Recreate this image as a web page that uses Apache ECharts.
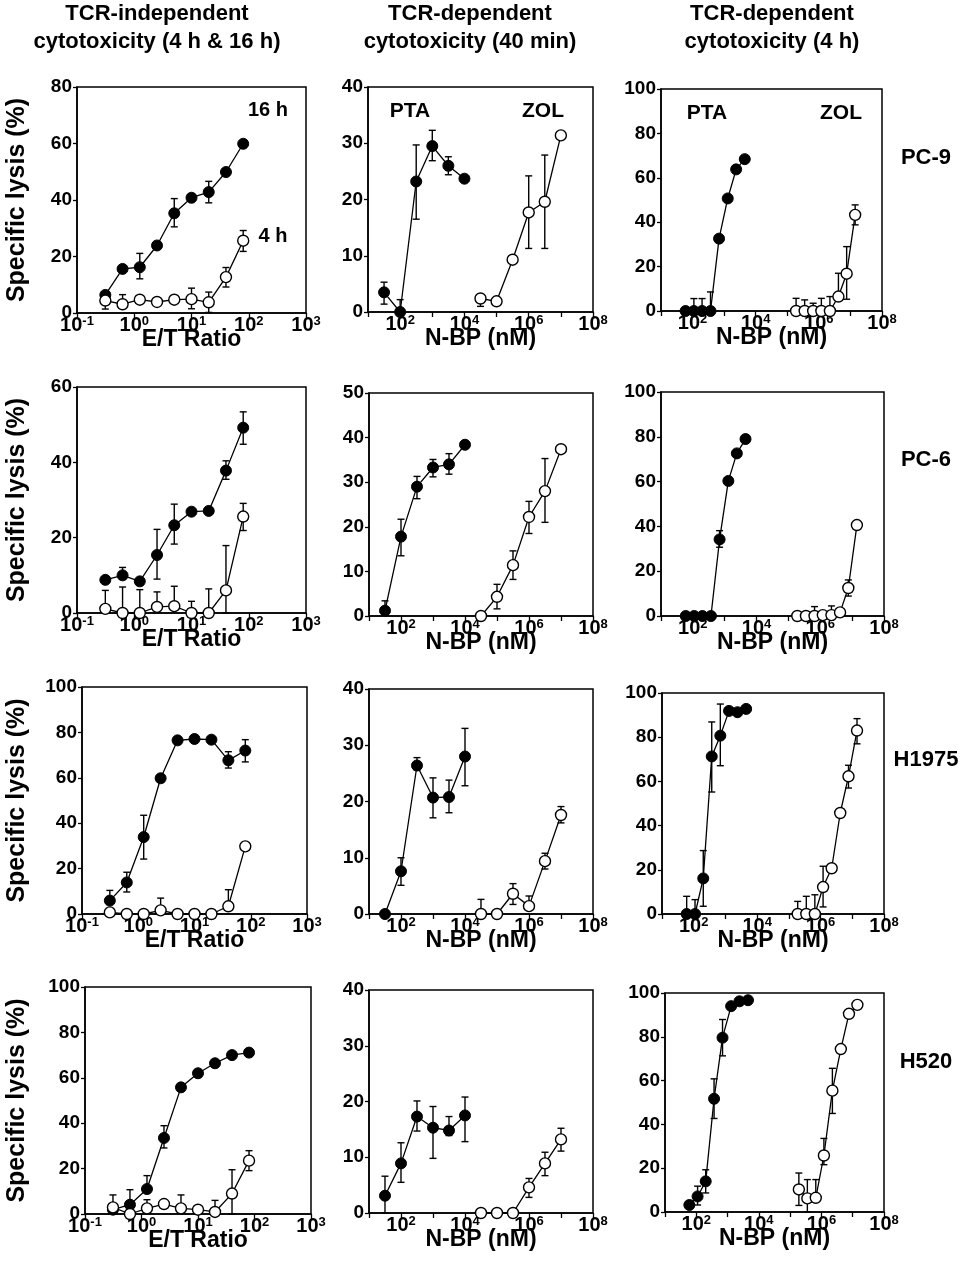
<!DOCTYPE html>
<html>
<head>
<meta charset="utf-8">
<script src="https://cdn.jsdelivr.net/npm/echarts@6/dist/echarts.min.js"></script>
<style>
  html, body { margin: 0; padding: 0; background: #fff; }
  #main { width: 977px; height: 1276px; }
</style>
</head>
<body>
<div id="main"></div>
<script>
// ---- x values ----
var etRatio = [0.3125, 0.625, 1.25, 2.5, 5, 10, 20, 40, 80];
var pta40Conc = [31.6, 100, 316, 1000, 3160, 10000];
var zol40Conc = [31600, 100000, 316000, 1000000, 3160000, 10000000];
var pta4hConc = [60, 110, 200, 370, 690, 1300, 2400, 4500];
var zol4hConc = [190000, 355000, 660000, 1200000, 2240000, 4170000, 7590000, 14100000];

// ---- labels / ticks ----
var cellLines = ['PC-9', 'PC-6', 'H1975', 'H520'];
var colTitles = [
    ['TCR-independent', 'cytotoxicity (4 h & 16 h)'],
    ['TCR-dependent', 'cytotoxicity (40 min)'],
    ['TCR-dependent', 'cytotoxicity (4 h)']
];
var xNames = ['E/T Ratio', 'N-BP (nM)', 'N-BP (nM)'];
var yMaxCol1 = [80, 60, 100, 100];
var yMaxCol2 = [40, 50, 40, 40];
var yMaxCol3 = [100, 100, 100, 100];

// ---- PC-9 ----  (err = [low, high], null = no bar on that side)
var pc9_16h = [6.4, 15.6, 16.2, 23.9, 35.3, 40.8, 42.8, 49.9, 59.9];
var pc9_16h_err = [null, null, [12.1, 21.1], null, [30.5, 40.5], null, [39, 46.6], null, null];
var pc9_4h = [4.4, 3.1, 4.7, 3.9, 4.7, 4.9, 3.8, 12.7, 25.6];
var pc9_4h_err = [[1.4, null], [null, 6.5], null, null, null, [1.5, 8.8], [0.2, 7.4], [9.2, 16.1], [21.8, 29.2]];
var pc9_pta40 = [3.5, 0, 23.2, 29.5, 26, 23.7];
var pc9_pta40_err = [[1.4, 5.3], [null, 2.2], [16.5, 29.7], [26.9, 32.3], [24.4, 27.6], null];
var pc9_zol40 = [2.4, 1.9, 9.3, 17.7, 19.6, 31.4];
var pc9_zol40_err = [[1.0, null], null, null, [11.3, 24.2], [11.3, 27.9], null];
var pc9_pta4h = [0, 0, 0, 0, 32.6, 50.7, 63.8, 68.4];
var pc9_pta4h_err = [null, [null, 5.6], [null, 5.6], [null, 8.6], null, null, null, null];
var pc9_zol4h = [0, 0, 0, 0, 0, 6.5, 16.8, 43.3];
var pc9_zol4h_err = [[null, 5.7], [null, 5], [null, 3.5], [null, 5.7], [null, 6.5], [null, 17], [5.3, 29], [38.8, 47.8]];

// ---- PC-6 ----
var pc6_16h = [8.8, 10, 8.4, 15.4, 23.3, 26.9, 27.1, 37.8, 49.2];
var pc6_16h_err = [null, [null, 12.1], null, [9, 22.2], [18.3, 28.9], null, null, [35.5, 40.4], [44.8, 53.4]];
var pc6_4h = [1.1, 0, 0, 1.6, 1.8, 0, 0, 6, 25.6];
var pc6_4h_err = [[null, 6], [null, 6.9], [null, 6.2], [null, 5.6], [null, 7.1], [null, 3.1], [null, 6.4], [0, 17.9], [21.9, 29.1]];
var pc6_pta40 = [1.2, 17.8, 29, 33.3, 34, 38.4];
var pc6_pta40_err = [[null, 3.4], [13.5, 21.7], [26.3, 31.3], [31.2, 35.1], [31.8, 36.4], null];
var pc6_zol40 = [0, 4.3, 11.4, 22.2, 28, 37.4];
var pc6_zol40_err = [null, [1.6, 7.1], [8.2, 14.6], [18.5, 25.7], [21, 35.3], null];
var pc6_pta4h = [0, 0, 0, 0, 34.2, 60.3, 72.6, 79];
var pc6_pta4h_err = [null, null, null, null, [30.7, 38.1], null, null, null];
var pc6_zol4h = [0, 0, 0, 0.4, 0.4, 1.6, 12.5, 40.6];
var pc6_zol4h_err = [null, null, [null, 4.2], null, [null, 4.5], null, [8.9, 16.1], null];

// ---- H1975 ----
var h1975_16h = [5.9, 13.9, 33.9, 59.8, 76.5, 77.1, 76.8, 67.7, 72];
var h1975_16h_err = [[null, 10.4], [9.7, 18.4], [24.2, 43.5], null, null, null, null, [64.3, 71.5], [67, 76.8]];
var h1975_4h = [0.7, 0, 0, 1.6, 0, 0, 0, 3.4, 29.8];
var h1975_4h_err = [null, null, null, [null, 7], null, null, null, [null, 10.7], null];
var h1975_pta40 = [0, 7.6, 26.4, 20.7, 20.8, 28];
var h1975_pta40_err = [null, [5.1, 10], [25.6, 27.8], [17.1, 24.2], [18, 23.8], [22.8, 33]];
var h1975_zol40 = [0, 0, 3.6, 1.4, 9.4, 17.6];
var h1975_zol40_err = [[null, 2.6], null, [1.7, 5.4], [null, 3.2], [8, 10.8], [16.2, 19.1]];
var h1975_pta4h = [0, 0, 16.1, 71.3, 80.7, 91.9, 91.3, 92.8];
var h1975_pta4h_err = [[null, 8], [null, 6.5], [3.5, 28.7], [55.2, 86.9], [67.1, 95], null, null, null];
var h1975_zol4h = [0, 0, 0, 12.2, 20.7, 45.7, 62.3, 83];
var h1975_zol4h_err = [[null, 5.7], [null, 8], [null, 8.7], [3.2, 21.6], null, null, [57, 67.3], [77, 88.4]];

// ---- H520 ----
var h520_16h = [1.9, 4.1, 11, 33.5, 55.8, 62, 66.4, 70, 71.1];
var h520_16h_err = [null, [null, 10.7], [null, 16.9], [29.1, 38.9], null, null, null, null, null];
var h520_4h = [2.9, 0, 2.5, 4.4, 2.5, 1.9, 0.9, 9, 23.5];
var h520_4h_err = [[null, 8.4], null, [null, 6.3], null, [null, 8.4], null, [null, 6], [0, 19.5], [19.1, 27.9]];
var h520_pta40 = [3.1, 8.9, 17.3, 15.3, 14.8, 17.5];
var h520_pta40_err = [[0, 6.6], [5.5, 12.6], [14.7, 20.1], [9.8, 19.1], [13.9, 17.3], [12.8, 20.8]];
var h520_zol40 = [0, 0, 0, 4.6, 8.9, 13.2];
var h520_zol40_err = [null, null, null, [2.8, 6.2], [6.7, 10.9], [11.1, 15.2]];
var h520_pta4h = [3.2, 7.1, 14, 51.7, 79.6, 94, 96.2, 96.7];
var h520_pta4h_err = [null, [3.2, 11.8], [8.7, 19.3], [42.7, 60.8], [71.3, 87.9], null, null, null];
var h520_zol4h = [10.3, 6.2, 6.5, 25.8, 55.4, 74.4, 90.5, 94.6];
var h520_zol4h_err = [[3, 17.8], [0, 14.8], [null, 14.8], [21.6, 33.6], [45, 65.6], null, null, null];

var FONT = '"Liberation Sans", Arial, Helvetica, sans-serif';

// panel boxes: [left, top, width, height]
var panels = [
    { box: [77, 87, 229, 226], col: 0, yMax: yMaxCol1[0], yStep: 20,
      lines: [[etRatio, pc9_16h, pc9_16h_err, true], [etRatio, pc9_4h, pc9_4h_err, false]] },
    { box: [368, 87, 225, 225], col: 1, yMax: yMaxCol2[0], yStep: 10,
      lines: [[pta40Conc, pc9_pta40, pc9_pta40_err, true], [zol40Conc, pc9_zol40, pc9_zol40_err, false]] },
    { box: [661, 89, 221, 222], col: 2, yMax: yMaxCol3[0], yStep: 20,
      lines: [[pta4hConc, pc9_pta4h, pc9_pta4h_err, true], [zol4hConc, pc9_zol4h, pc9_zol4h_err, false]] },

    { box: [77, 387, 229, 226], col: 0, yMax: yMaxCol1[1], yStep: 20,
      lines: [[etRatio, pc6_16h, pc6_16h_err, true], [etRatio, pc6_4h, pc6_4h_err, false]] },
    { box: [369, 393, 224, 223], col: 1, yMax: yMaxCol2[1], yStep: 10,
      lines: [[pta40Conc, pc6_pta40, pc6_pta40_err, true], [zol40Conc, pc6_zol40, pc6_zol40_err, false]] },
    { box: [661, 392, 223, 224], col: 2, yMax: yMaxCol3[1], yStep: 20,
      lines: [[pta4hConc, pc6_pta4h, pc6_pta4h_err, true], [zol4hConc, pc6_zol4h, pc6_zol4h_err, false]] },

    { box: [82, 687, 225, 227], col: 0, yMax: yMaxCol1[2], yStep: 20,
      lines: [[etRatio, h1975_16h, h1975_16h_err, true], [etRatio, h1975_4h, h1975_4h_err, false]] },
    { box: [369, 689, 224, 225], col: 1, yMax: yMaxCol2[2], yStep: 10,
      lines: [[pta40Conc, h1975_pta40, h1975_pta40_err, true], [zol40Conc, h1975_zol40, h1975_zol40_err, false]] },
    { box: [662, 693, 222, 221], col: 2, yMax: yMaxCol3[2], yStep: 20,
      lines: [[pta4hConc, h1975_pta4h, h1975_pta4h_err, true], [zol4hConc, h1975_zol4h, h1975_zol4h_err, false]] },

    { box: [85, 987, 226, 227], col: 0, yMax: yMaxCol1[3], yStep: 20,
      lines: [[etRatio, h520_16h, h520_16h_err, true], [etRatio, h520_4h, h520_4h_err, false]] },
    { box: [369, 990, 224, 223], col: 1, yMax: yMaxCol2[3], yStep: 10,
      lines: [[pta40Conc, h520_pta40, h520_pta40_err, true], [zol40Conc, h520_zol40, h520_zol40_err, false]] },
    { box: [665, 993, 219, 219], col: 2, yMax: yMaxCol3[3], yStep: 20,
      lines: [[pta4hConc, h520_pta4h, h520_pta4h_err, true], [zol4hConc, h520_zol4h, h520_zol4h_err, false]] }
];

var supRich = {
    b: { fontSize: 20, fontWeight: 'bold', fontFamily: FONT, color: '#000', lineHeight: 20 },
    s: { fontSize: 13, fontWeight: 'bold', fontFamily: FONT, color: '#000', lineHeight: 13, verticalAlign: 'top' }
};
function powLabel(v, evenOnly) {
    var e = Math.round(Math.log(v) / Math.LN10);
    if (evenOnly && e % 2 !== 0) return '';
    return '{b|10}{s|' + e + '}';
}

// error bar: vertical line from point to low/high, small cap on the end
function renderErr(params, api) {
    var x = api.value(0), y = api.value(1), lo = api.value(2), hi = api.value(3);
    var c = api.coord([x, y]);
    var st = { stroke: '#000', lineWidth: 1.4 };
    var kids = [];
    [hi, lo].forEach(function (v) {
        if (v === y) return;
        var e = api.coord([x, v]);
        kids.push({ type: 'line', shape: { x1: c[0], y1: c[1], x2: e[0], y2: e[1] }, style: st });
        kids.push({ type: 'line', shape: { x1: e[0] - 3.5, y1: e[1], x2: e[0] + 3.5, y2: e[1] }, style: st });
    });
    return { type: 'group', children: kids };
}

var grids = [], xAxes = [], yAxes = [], series = [];
panels.forEach(function (p, i) {
    grids.push({
        left: p.box[0], top: p.box[1], width: p.box[2], height: p.box[3],
        show: true, borderColor: '#000', borderWidth: 1.5, backgroundColor: 'transparent',
        containLabel: false, outerBoundsMode: 'none'
    });
    var evenOnly = p.col !== 0;
    xAxes.push({
        gridIndex: i, type: 'log', logBase: 10,
        min: p.col === 0 ? 0.1 : 10, max: p.col === 0 ? 1000 : 1e8,
        axisLine: { lineStyle: { color: '#000', width: 1.5 } },
        axisTick: { show: true, length: 5, lineStyle: { color: '#000', width: 1.3 } },
        splitLine: { show: false }, minorTick: { show: false },
        axisLabel: {
            margin: 2, color: '#000',
            formatter: function (v) { return powLabel(v, evenOnly); },
            rich: supRich
        }
    });
    yAxes.push({
        gridIndex: i, type: 'value', min: 0, max: p.yMax, interval: p.yStep,
        axisLine: { show: true, lineStyle: { color: '#000', width: 1.5 } },
        axisTick: { show: true, length: 4, lineStyle: { color: '#000', width: 1.3 } },
        splitLine: { show: false },
        axisLabel: { margin: 5, color: '#000', fontSize: 19, fontWeight: 'bold', fontFamily: FONT }
    });
    p.lines.forEach(function (ln) {
        var xs = ln[0], ys = ln[1], errs = ln[2], filled = ln[3];
        series.push({
            type: 'line', xAxisIndex: i, yAxisIndex: i,
            data: xs.map(function (x, k) { return [x, ys[k]]; }),
            symbol: 'circle', symbolSize: 11, showSymbol: true, clip: false, silent: true,
            lineStyle: { color: '#000', width: 1.3 },
            itemStyle: filled ? { color: '#000', borderColor: '#000', borderWidth: 1 }
                              : { color: '#fff', borderColor: '#000', borderWidth: 1.4 },
            z: 3
        });
        var items = [];
        errs.forEach(function (e, k) {
            if (!e) return;
            items.push([xs[k], ys[k], e[0] == null ? ys[k] : e[0], e[1] == null ? ys[k] : e[1]]);
        });
        series.push({
            type: 'custom', xAxisIndex: i, yAxisIndex: i, data: items,
            encode: { x: 0, y: 1 }, renderItem: renderErr, clip: false, silent: true, z: 2
        });
    });
});

function txt(x, y, s, size, rot) {
    return {
        type: 'text', x: x, y: y, rotation: rot || 0, silent: true,
        style: {
            text: s, fill: '#000', font: 'bold ' + size + 'px ' + FONT,
            align: 'center', verticalAlign: 'middle',
            textAlign: 'center', textVerticalAlign: 'middle'
        }
    };
}

var texts = [];
var colCenters = [157, 470, 772];
colTitles.forEach(function (t, c) {
    texts.push(txt(colCenters[c], 14, t[0], 22));
    texts.push(txt(colCenters[c], 42, t[1], 22));
});
var rowLabelY = [158, 460, 760, 1062];
cellLines.forEach(function (name, r) {
    texts.push(txt(926, rowLabelY[r], name, 22));
    var g = panels[r * 3].box;
    texts.push(txt(17, g[1] + g[3] / 2, 'Specific lysis (%)', 25, Math.PI / 2));
});
panels.forEach(function (p) {
    var b = p.box;
    texts.push(txt(b[0] + b[2] / 2, b[1] + b[3] + 27, xNames[p.col], 23));
});
texts.push(txt(268, 110, '16 h', 20));
texts.push(txt(273, 236, '4 h', 20));
texts.push(txt(410, 111, 'PTA', 21));
texts.push(txt(543, 111, 'ZOL', 21));
texts.push(txt(707, 113, 'PTA', 21));
texts.push(txt(841, 113, 'ZOL', 21));

var chart = echarts.init(document.getElementById('main'));
chart.setOption({
    animation: false,
    backgroundColor: '#fff',
    grid: grids,
    xAxis: xAxes,
    yAxis: yAxes,
    series: series,
    graphic: { elements: texts }
});
</script>
</body>
</html>
